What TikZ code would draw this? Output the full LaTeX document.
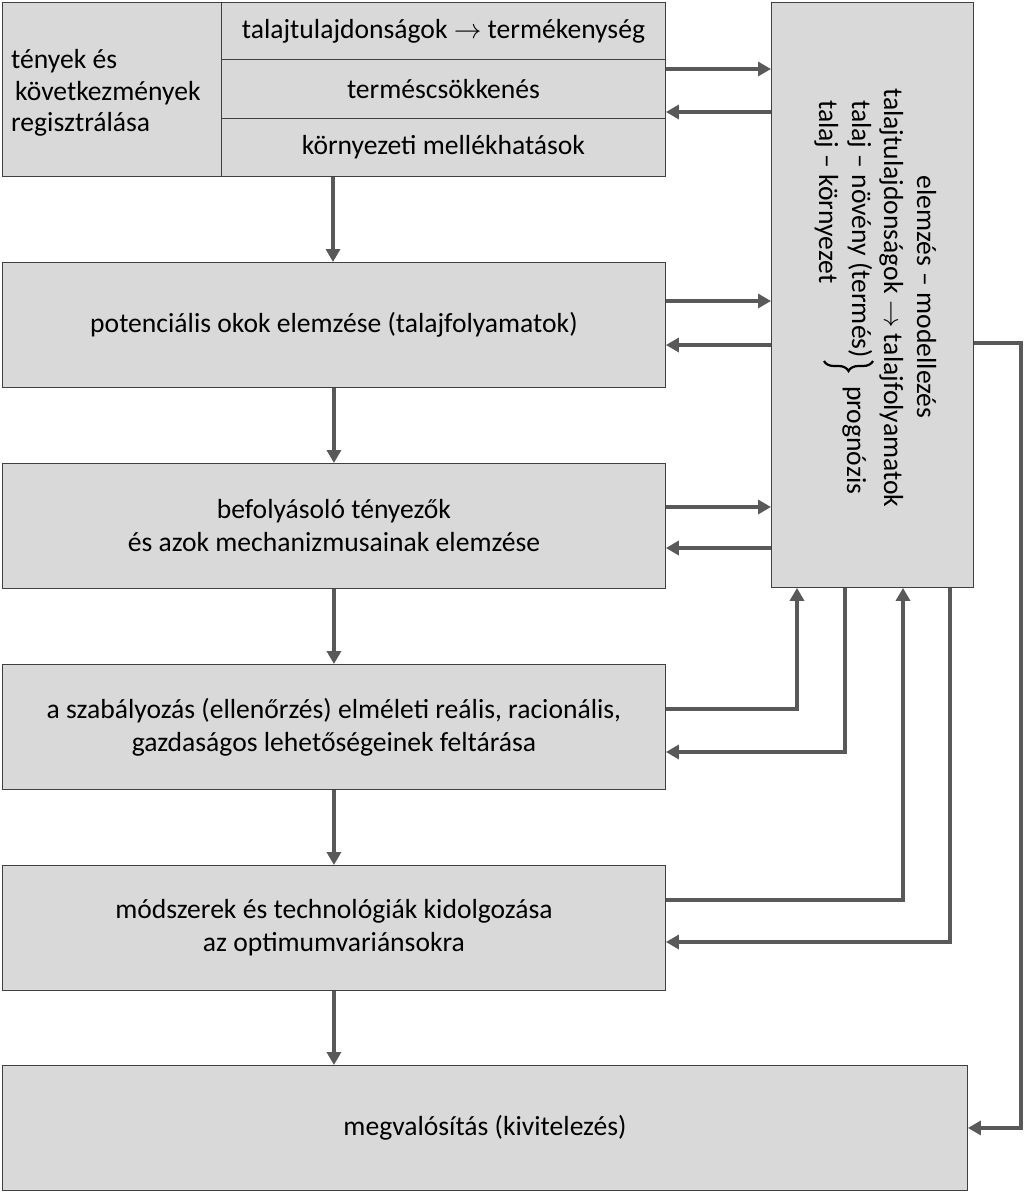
\RequirePackage{fix-cm}
\documentclass[tikz,border=0pt]{standalone}
\usepackage{fontspec}
\setmainfont{Carlito}
\usetikzlibrary{arrows.meta,decorations.pathreplacing}
\definecolor{boxfill}{HTML}{D9D9D9}
\definecolor{boxline}{HTML}{404040}
\definecolor{arrcol}{HTML}{595959}
\begin{document}
\begin{tikzpicture}[x=1pt,y=-1pt,
  box/.style={draw=boxline, fill=boxfill, line width=0.9pt, inner sep=0pt,
    anchor=north west, align=center, font=\fontsize{27.6}{33}\selectfont},
  arr/.style={draw=arrcol, line width=4.5pt, -{Triangle[length=13pt,width=14pt]}},
  txt/.style={font=\fontsize{27.6}{31.5}\selectfont, inner sep=0pt},
  rot/.style={font=\fontsize{27.6}{33}\selectfont, rotate=-90, inner sep=0pt}]
\useasboundingbox (0,0) rectangle (1024,1192);
\fill[white] (0,0) rectangle (1024,1192);
% top block
\node[box, minimum width=219pt, minimum height=174pt] (b1l) at (2,2) {};
\node[txt, anchor=west, align=left] (t1) at (11,93) {tények és\\\hspace{4pt}következmények\\regisztrálása};
\node[box, minimum width=444pt, minimum height=57pt] (c1) at (221,2) {talajtulajdonságok $\rightarrow$ termékenység};
\node[box, minimum width=444pt, minimum height=59pt] (c2) at (221,59) {terméscsökkenés};
\node[box, minimum width=444pt, minimum height=58pt] (c3) at (221,118) {környezeti mellékhatások};
% main boxes
\node[box, minimum width=663pt, minimum height=125pt] (b2) at (2,262) {potenciális okok elemzése (talajfolyamatok)};
\node[box, minimum width=663pt, minimum height=125pt] (b3) at (2,463) {befolyásoló tényezők\\és azok mechanizmusainak elemzése};
\node[box, minimum width=663pt, minimum height=125pt] (b4) at (2,664) {a szabályozás (ellenőrzés) elméleti reális, racionális,\\gazdaságos lehetőségeinek feltárása};
\node[box, minimum width=663pt, minimum height=125pt] (b5) at (2,865) {módszerek és technológiák kidolgozása\\az optimumvariánsokra};
\node[box, minimum width=965pt, minimum height=125pt] (b6) at (2,1065) {megvalósítás (kivitelezés)};
% right box
\node[box, minimum width=202pt, minimum height=585pt] (R) at (771,2) {};
\node[rot, anchor=base] (r1) at (917,297) {elemzés – modellezés};
\node[rot, anchor=base west] (r2) at (884,88) {talajtulajdonságok $\rightarrow$ talajfolyamatok};
\node[rot, anchor=base west] (r3) at (852,100) {talaj – növény (termés)};
\node[rot, anchor=base west] (r4) at (819,100) {talaj – környezet};
\coordinate (bra) at (873,361);
\coordinate (brb) at (824,361);
\draw[black, line width=2.2pt, decorate, decoration={brace, amplitude=10pt}] (bra) -- (brb);
\node[rot, anchor=base west] (r5) at (847,386) {prognózis};
% down arrows
\draw[arr, line width=4pt] (c3.south -| 333,0) -- (b2.north -| 333,0);
\draw[arr, line width=4pt] (b2.south) -- (b3.north);
\draw[arr, line width=4pt] (b3.south) -- (b4.north);
\draw[arr, line width=4pt] (b4.south) -- (b5.north);
\draw[arr, line width=4pt] (b5.south) -- (b6.north -| b5.south);
% horizontal arrows to / from the right box
\draw[arr] (c2.east |- 0,69) -- (R.west |- 0,69);
\draw[arr] (R.west |- 0,112) -- (c2.east |- 0,112);
\draw[arr] (b2.east |- 0,301) -- (R.west |- 0,301);
\draw[arr] (R.west |- 0,345) -- (b2.east |- 0,345);
\draw[arr] (b3.east |- 0,507) -- (R.west |- 0,507);
\draw[arr] (R.west |- 0,548) -- (b3.east |- 0,548);
% elbow arrows below the right box
\draw[arr] (b4.east |- 0,709) -| (R.south -| 797,0);
\draw[arr] (R.south -| 845,0) |- (b4.east |- 0,752);
\draw[arr] (b5.east |- 0,900) -| (R.south -| 903,0);
\draw[arr] (R.south -| 950,0) |- (b5.east |- 0,942);
% right box to implementation
\draw[arr] (R.east |- 0,343) -| ([xshift=53pt]b6.east) -- (b6.east);
\end{tikzpicture}
\end{document}
